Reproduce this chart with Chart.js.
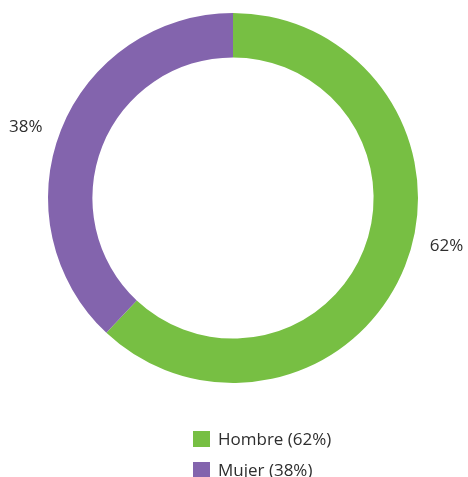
<!DOCTYPE html>
<html>
<head>
<meta charset="utf-8">
<script src="https://cdn.jsdelivr.net/npm/chart.js@4/dist/chart.umd.min.js"></script>
<style>
  body { margin: 0; background: #fff; }
  #wrap { position: relative; width: 468px; height: 477px; overflow: hidden; }
  #legend { position: absolute; left: 193px; top: 427px; font-family: "Open Sans", sans-serif; font-size: 17px; color: #2e2e2e; }
  #legend div { height: 30.5px; line-height: 24px; display: flex; align-items: flex-start; }
  #legend span.box { display: inline-block; width: 17px; height: 16px; margin-right: 8px; margin-top: 4px; }
</style>
</head>
<body>
<div id="wrap">
  <canvas id="myChart" width="468" height="477"></canvas>
  <div id="legend"></div>
</div>
<script>
var categories = ['Hombre', 'Mujer'];
var values = [62, 38];
var colors = ['#77bf43', '#8364ad'];

// percent text placed outside each arc, shifted a little from the arc middle
var outsideLabels = {
    id: 'outsideLabels',
    afterDatasetsDraw: function (chart, args, opts) {
        var ctx = chart.ctx;
        var meta = chart.getDatasetMeta(0);
        ctx.save();
        ctx.font = '17px "Open Sans", sans-serif';
        ctx.fillStyle = '#2e2e2e';
        ctx.textAlign = 'center';
        ctx.textBaseline = 'middle';
        meta.data.forEach(function (arc, i) {
            var mid = (arc.startAngle + arc.endAngle) / 2 + opts.shift[i] * Math.PI / 180;
            var r = arc.outerRadius + opts.gap;
            var x = arc.x + r * Math.cos(mid);
            var y = arc.y + r * Math.sin(mid);
            ctx.fillText(values[i] + '%', x, y);
        });
        ctx.restore();
    }
};

var myChart = new Chart('myChart', {
    type: 'doughnut',
    data: {
        labels: categories,
        datasets: [{
            data: values,
            backgroundColor: colors,
            borderWidth: 0
        }]
    },
    options: {
        responsive: false,
        animation: false,
        cutout: '76%',
        layout: { padding: { left: 48, right: 50, top: 13, bottom: 94 } },
        plugins: {
            legend: { display: false },
            tooltip: { enabled: false },
            outsideLabels: { gap: 34, shift: [-8.8, -2.7] }
        }
    },
    plugins: [outsideLabels]
});

var legend = document.getElementById('legend');
categories.forEach(function (c, i) {
    var row = document.createElement('div');
    row.innerHTML = '<span class="box" style="background:' + colors[i] + '"></span>' + c + ' (' + values[i] + '%)';
    legend.appendChild(row);
});
</script>
</body>
</html>
